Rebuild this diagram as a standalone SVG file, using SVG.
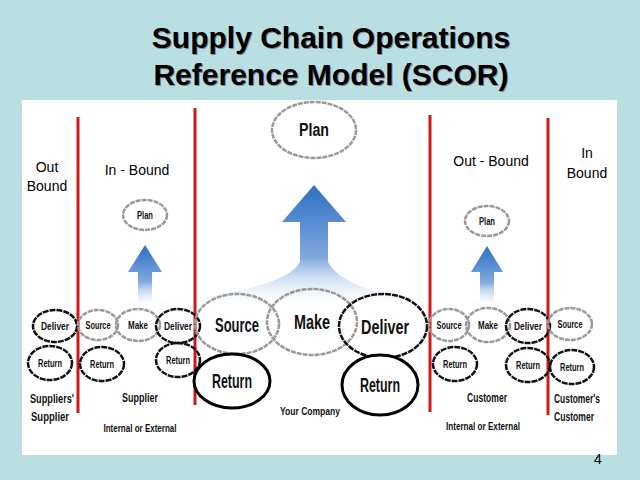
<svg xmlns="http://www.w3.org/2000/svg" width="640" height="480" viewBox="0 0 640 480">
<defs>
<linearGradient id="bg" x1="0" y1="0" x2="0" y2="1"><stop offset="0" stop-color="#2f6fc4"/><stop offset="0.6" stop-color="#7fa9de"/><stop offset="1" stop-color="#ffffff" stop-opacity="0.2"/></linearGradient>
<style>
.t{font-family:"Liberation Sans",Arial,sans-serif;font-weight:bold;fill:#000;text-shadow:1px 1px 0 #888}
.s{font-family:"Liberation Sans",Arial,sans-serif;font-size:14px;fill:#000;text-anchor:middle}
.n{font-family:"Liberation Sans",Arial,sans-serif;font-weight:bold;fill:#111;text-anchor:middle;dominant-baseline:central}
.g{fill:none;stroke:#999;stroke-width:2.5;stroke-dasharray:5 1}
.d{fill:none;stroke:#111;stroke-width:2.5;stroke-dasharray:6 1}
.k{fill:#fff;stroke:#000;stroke-width:3}
.r{stroke:#d01818;stroke-width:3}
</style>
</defs>
<rect width="640" height="480" fill="#b9dfe3"/>
<rect x="22" y="100" width="595" height="355" fill="#fff"/>
<g id="title" class="t" font-size="30" text-anchor="middle">
<text x="331" y="48">Supply Chain Operations</text>
<text x="331" y="85">Reference Model (SCOR)</text>
</g>
<g id="arrows" fill="url(#bg)">
<path d="M314,185 L346,222 L328,222 L328,262 Q345,292 430,302 L130,306 Q285,292 300,262 L300,222 L282,222 Z"/>
<path d="M145,245 L162,272 L152,272 L152,300 Q170,305 195,306 L110,306 Q135,303 138,300 L138,272 L128,272 Z"/>
<path d="M487,246 L503,272 L494,272 L494,300 Q510,305 540,306 L450,306 Q478,303 480,300 L480,272 L471,272 Z"/>
</g>
<g id="connectors">
<line class="r" x1="78" y1="117" x2="78" y2="413"/>
<line class="r" x1="195" y1="108" x2="195" y2="405"/>
<line class="r" x1="430" y1="115" x2="430" y2="412"/>
<line class="r" x1="548" y1="118" x2="548" y2="415"/>
</g>
<g id="plan"><ellipse class="g" cx="314" cy="130" rx="42" ry="28" fill="#fff"/><text class="n" x="314" y="130" font-size="18" textLength="30" lengthAdjust="spacingAndGlyphs">Plan</text></g>
<g id="plan-l"><ellipse class="g" cx="145" cy="215" rx="22" ry="15" fill="#fff"/><text class="n" x="145" y="215" font-size="10" textLength="16" lengthAdjust="spacingAndGlyphs">Plan</text></g>
<g id="plan-r"><ellipse class="g" cx="487" cy="221" rx="22" ry="15" fill="#fff"/><text class="n" x="487" y="221" font-size="10" textLength="16" lengthAdjust="spacingAndGlyphs">Plan</text></g>
<g id="ss">
<ellipse class="d" cx="55" cy="326" rx="22" ry="16"/><text class="n" x="55" y="326" font-size="10" textLength="28" lengthAdjust="spacingAndGlyphs">Deliver</text>
<ellipse class="d" cx="50" cy="363" rx="22" ry="17"/><text class="n" x="50" y="363" font-size="10" textLength="24" lengthAdjust="spacingAndGlyphs">Return</text>
</g>
<g id="sup">
<ellipse class="g" cx="98" cy="325" rx="20" ry="15"/><text class="n" x="98" y="325" font-size="10" textLength="25" lengthAdjust="spacingAndGlyphs">Source</text>
<ellipse class="g" cx="138" cy="325" rx="22" ry="16"/><text class="n" x="138" y="325" font-size="10" textLength="20" lengthAdjust="spacingAndGlyphs">Make</text>
<ellipse class="d" cx="178" cy="326" rx="22" ry="17"/><text class="n" x="178" y="326" font-size="10" textLength="28" lengthAdjust="spacingAndGlyphs">Deliver</text>
<ellipse class="d" cx="102" cy="364" rx="22" ry="17"/><text class="n" x="102" y="364" font-size="10" textLength="24" lengthAdjust="spacingAndGlyphs">Return</text>
<ellipse class="d" cx="178" cy="360" rx="22" ry="17"/><text class="n" x="178" y="360" font-size="10" textLength="24" lengthAdjust="spacingAndGlyphs">Return</text>
</g>
<g id="co">
<ellipse class="g" cx="237" cy="324" rx="42" ry="30"/><text class="n" x="237" y="325" font-size="20" textLength="44" lengthAdjust="spacingAndGlyphs">Source</text>
<ellipse class="g" cx="312" cy="322" rx="45" ry="33"/><text class="n" x="312" y="322" font-size="20" textLength="36" lengthAdjust="spacingAndGlyphs">Make</text>
<ellipse class="d" cx="383" cy="326" rx="44" ry="32"/><text class="n" x="385" y="327" font-size="20" textLength="48" lengthAdjust="spacingAndGlyphs">Deliver</text>
<ellipse class="k" cx="232" cy="381" rx="38" ry="27"/><text class="n" x="232" y="381" font-size="20" textLength="40" lengthAdjust="spacingAndGlyphs">Return</text>
<ellipse class="k" cx="380" cy="385" rx="38" ry="30"/><text class="n" x="380" y="385" font-size="20" textLength="40" lengthAdjust="spacingAndGlyphs">Return</text>
</g>
<g id="cus">
<ellipse class="g" cx="449" cy="325" rx="20" ry="16"/><text class="n" x="449" y="325" font-size="10" textLength="25" lengthAdjust="spacingAndGlyphs">Source</text>
<ellipse class="g" cx="488" cy="325" rx="22" ry="17"/><text class="n" x="488" y="325" font-size="10" textLength="20" lengthAdjust="spacingAndGlyphs">Make</text>
<ellipse class="d" cx="528" cy="326" rx="22" ry="17"/><text class="n" x="528" y="326" font-size="10" textLength="28" lengthAdjust="spacingAndGlyphs">Deliver</text>
<ellipse class="d" cx="455" cy="364" rx="22" ry="17"/><text class="n" x="455" y="364" font-size="10" textLength="24" lengthAdjust="spacingAndGlyphs">Return</text>
<ellipse class="d" cx="528" cy="365" rx="22" ry="17"/><text class="n" x="528" y="365" font-size="10" textLength="24" lengthAdjust="spacingAndGlyphs">Return</text>
</g>
<g id="cc">
<ellipse class="g" cx="570" cy="324" rx="22" ry="16"/><text class="n" x="570" y="324" font-size="10" textLength="25" lengthAdjust="spacingAndGlyphs">Source</text>
<ellipse class="d" cx="572" cy="367" rx="22" ry="17"/><text class="n" x="572" y="367" font-size="10" textLength="24" lengthAdjust="spacingAndGlyphs">Return</text>
</g>
<g id="labels">
<text class="n" x="52" y="398" font-size="13" textLength="44" lengthAdjust="spacingAndGlyphs">Suppliers'</text>
<text class="n" x="50" y="416" font-size="13" textLength="38" lengthAdjust="spacingAndGlyphs">Supplier</text>
<text class="n" x="140" y="397" font-size="13" textLength="36" lengthAdjust="spacingAndGlyphs">Supplier</text>
<text class="n" x="140" y="428" font-size="10" textLength="73" lengthAdjust="spacingAndGlyphs">Internal or External</text>
<text class="n" x="310" y="411" font-size="11" textLength="60" lengthAdjust="spacingAndGlyphs">Your Company</text>
<text class="n" x="487" y="397" font-size="13" textLength="40" lengthAdjust="spacingAndGlyphs">Customer</text>
<text class="n" x="483" y="426" font-size="10" textLength="74" lengthAdjust="spacingAndGlyphs">Internal or External</text>
<text class="n" x="577" y="398" font-size="13" textLength="46" lengthAdjust="spacingAndGlyphs">Customer's</text>
<text class="n" x="574" y="416" font-size="13" textLength="40" lengthAdjust="spacingAndGlyphs">Customer</text>
<text class="s" x="47" y="172">Out</text><text class="s" x="47" y="191">Bound</text>
<text class="s" x="137" y="175">In - Bound</text>
<text class="s" x="491" y="166">Out - Bound</text>
<text class="s" x="587" y="158">In</text><text class="s" x="587" y="178">Bound</text>
<text class="s" x="598" y="464" font-size="12">4</text>
</g>
</svg>
